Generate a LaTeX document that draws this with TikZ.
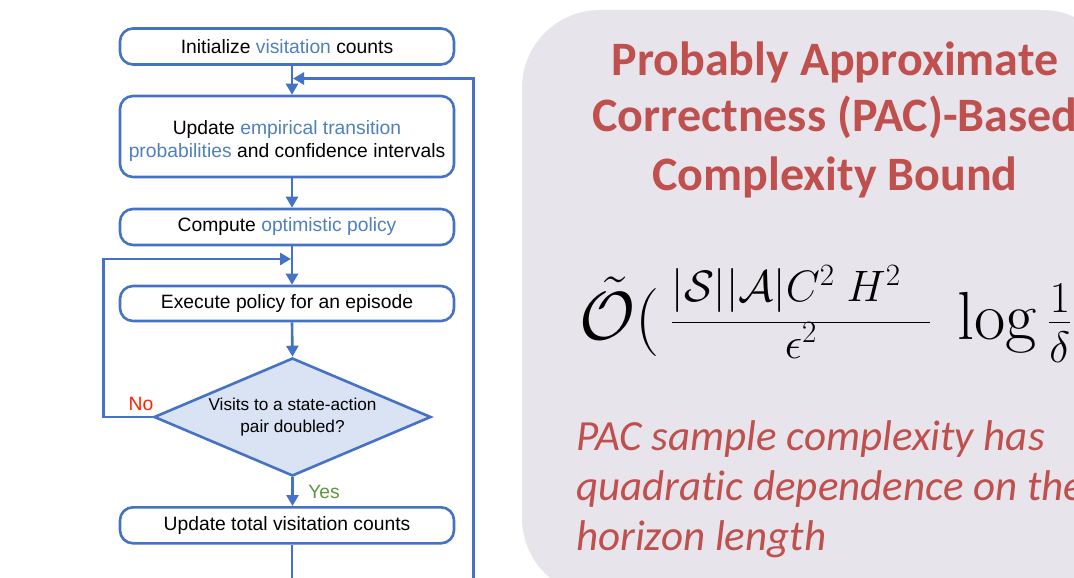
\documentclass[tikz,border=0pt]{standalone}
\usepackage{fix-cm}
\usepackage{fontspec}
\usetikzlibrary{arrows.meta,shapes.geometric,calc}
\newfontfamily\flowfont{Liberation Sans}
\newfontfamily\calfont[Ligatures={NoCommon}]{Carlito}
\DeclareMathSizes{68}{68}{44}{31}
\definecolor{flowblue}{RGB}{68,114,196}
\definecolor{termblue}{RGB}{79,129,189}
\definecolor{diafill}{RGB}{218,227,243}
\definecolor{panelfill}{RGB}{231,228,236}
\definecolor{pacred}{RGB}{192,80,77}
\definecolor{nored}{RGB}{255,34,0}
\definecolor{yesgreen}{RGB}{96,150,60}
\newcommand{\lowline}[1]{\raisebox{-4.5pt}[\height][\depth]{#1}}
\tikzset{
  stepbox/.style={draw=flowblue, line width=2.6pt, rounded corners=13pt, fill=white,
    minimum width=334pt, inner sep=0pt, align=center,
    font=\flowfont\fontsize{19.3}{23}\selectfont},
  decision/.style={diamond, aspect=2.35, draw=flowblue, line width=2.6pt, fill=diafill,
    minimum width=277pt, minimum height=118pt, inner sep=0pt, align=center,
    font=\flowfont\fontsize{17.2}{22}\selectfont},
  flow/.style={draw=flowblue, line width=2.6pt, -{Triangle[length=11pt,width=12pt]}},
  branch/.style={font=\flowfont\fontsize{19.3}{22}\selectfont},
  title/.style={anchor=base, inner sep=0pt, text=pacred,
    font=\calfont\bfseries\fontsize{48}{57}\selectfont},
  remark/.style={anchor=base west, inner sep=0pt, text=pacred,
    font=\calfont\itshape\fontsize{43}{50}\selectfont},
}
\begin{document}
\begin{tikzpicture}[x=1pt, y=-1pt]
\useasboundingbox (0,0) rectangle (1074,578);
\clip (0,0) rectangle (1074,578);
\fill[white] (0,0) rectangle (1074,578);

% right-hand panel with the bound
\path[fill=panelfill, rounded corners=78pt] (522,10) rectangle (1120,596);
\node[title] (t1) at (835,75) {Probably Approximate};
\node[title] (t2) at (835,131) {Correctness (PAC)-Based};
\node[title] (t3) at (835,190) {Complexity Bound};
\node[anchor=base west, inner sep=0pt, font=\fontsize{68}{82}\selectfont] (bound) at (579,339)
  {$\tilde{\mathcal{O}}\big(\,\frac{\rule[-20pt]{0pt}{20pt}|\mathcal{S}||\mathcal{A}|C^2\mkern5mu H^2\mkern12mu}{\raisebox{6pt}{$\scriptstyle\epsilon^2$}}\mkern4mu\log\frac{1}{\delta}$};
\node[remark] (r1) at (576,450) {PAC sample complexity has};
\node[remark] (r2) at (576,500) {quadratic dependence on the};
\node[remark] (r3) at (576,550) {horizon length};

% flowchart
\coordinate (fx) at (292,0);
\node[stepbox, minimum height=36pt] (b1) at (287,46.5)
  {Initialize \textcolor{termblue}{visitation} counts};
\node[stepbox, minimum height=81pt] (b2) at (287,136.5)
  {\lowline{Update \textcolor{termblue}{empirical transition}}\\\lowline{\textcolor{termblue}{probabilities} and confidence intervals}};
\node[stepbox, minimum height=36pt] (b3) at (287,227)
  {Compute \textcolor{termblue}{optimistic policy}};
\node[stepbox, minimum height=35pt] (b4) at (287,303.5)
  {Execute policy for an episode};
\node[decision] (dec) at (292.5,417) {Visits to a state-action\\pair doubled?};
\node[stepbox, minimum height=36pt] (b5) at (287,525.3)
  {Update total visitation counts};

\draw[flow] (b1.south -| fx) -- (b2.north -| fx);
\draw[flow] (b2.south -| fx) -- (b3.north -| fx);
\draw[flow] (b3.south -| fx) -- (b4.north -| fx);
\draw[flow] (b4.south -| fx) -- (dec.north);
\draw[flow] (dec.south) -- (dec.south |- b5.north);
\node[branch, text=yesgreen] (yes) at (324,491.5) {Yes};

\coordinate (loopL) at (103.3,259);
\coordinate (loopEnd) at (291,259);
\draw[flow] (dec.west) -| (loopL) -- (loopEnd);
\node[branch, text=nored] (no) at (141,404) {No};

\coordinate (belowR) at (473.5,600);
\coordinate (fbEnd) at (293,78.5);
\draw[flow] (b5.south -| fx) |- (belowR) |- (fbEnd);
\end{tikzpicture}
\end{document}
